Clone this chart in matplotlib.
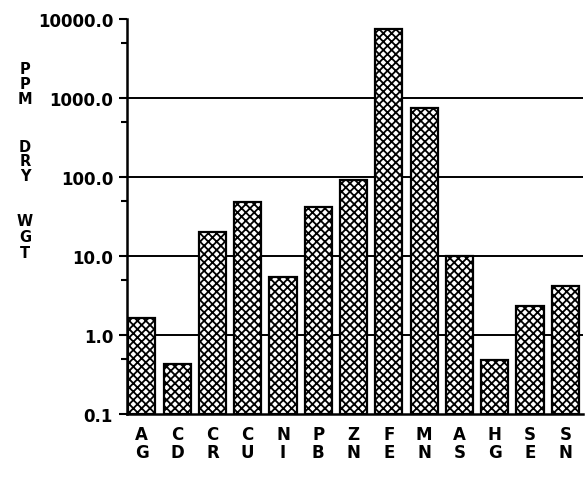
import matplotlib.pyplot as plt

elements = ['AG', 'CD', 'CR', 'CU', 'NI', 'PB', 'ZN', 'FE', 'MN', 'AS', 'HG', 'SE', 'SN']
ppm = [1.65, 0.43, 20.0, 48.0, 5.5, 42.0, 92.0, 7400.0, 750.0, 10.0, 0.48, 2.3, 4.2]
yticks = [0.1, 1, 10, 100, 1000, 10000]
ytick_labels = ['0.1', '1.0', '10.0', '100.0', '1000.0', '10000.0']
floor = 0.1

plt.rcParams['hatch.linewidth'] = 1.3

fig = plt.figure(figsize=(5.85, 4.81), dpi=100)
ax = fig.add_axes([127 / 585, 1 - 415 / 481, 456 / 585, 395 / 481])

x = list(range(len(elements)))
ax.bar(x, [v - floor for v in ppm], width=0.77, bottom=floor, color='white',
       edgecolor='black', linewidth=1.6, hatch='xxxx', zorder=3)

ax.set_yscale('log')
ax.set_ylim(0.1, 10000)
ax.set_xlim(-0.42, len(elements) - 0.5)

for v in yticks[1:-1]:
    ax.axhline(v, color='black', linewidth=1.4, zorder=1)

ax.set_yticks(yticks)
ax.set_yticklabels(ytick_labels, fontsize=12, fontweight='bold')
ax.set_yticks([0.5, 5, 50, 500, 5000], minor=True)
ax.yaxis.set_minor_formatter(plt.NullFormatter())
ax.tick_params(axis='y', which='major', length=6, width=1.5, pad=4)
ax.tick_params(axis='y', which='minor', length=4, width=1.5)

ax.set_xticks(x)
ax.set_xticklabels([e[0] + '\n' + e[1] for e in elements], fontsize=12,
                   fontweight='bold', linespacing=1.0)
ax.tick_params(axis='x', length=0, pad=8)

for side in ['top', 'right']:
    ax.spines[side].set_visible(False)
ax.spines['left'].set_linewidth(1.8)
ax.spines['bottom'].set_linewidth(1.8)

label_letters = [('P', 70), ('P', 85), ('M', 100), ('D', 147), ('R', 162), ('Y', 177),
                 ('W', 222), ('G', 238), ('T', 254)]
for ch, py in label_letters:
    fig.text(25 / 585, 1 - py / 481, ch, fontsize=10.5, fontweight='bold',
             ha='center', va='center')

fig.savefig('out.png', dpi=100, facecolor='white')
